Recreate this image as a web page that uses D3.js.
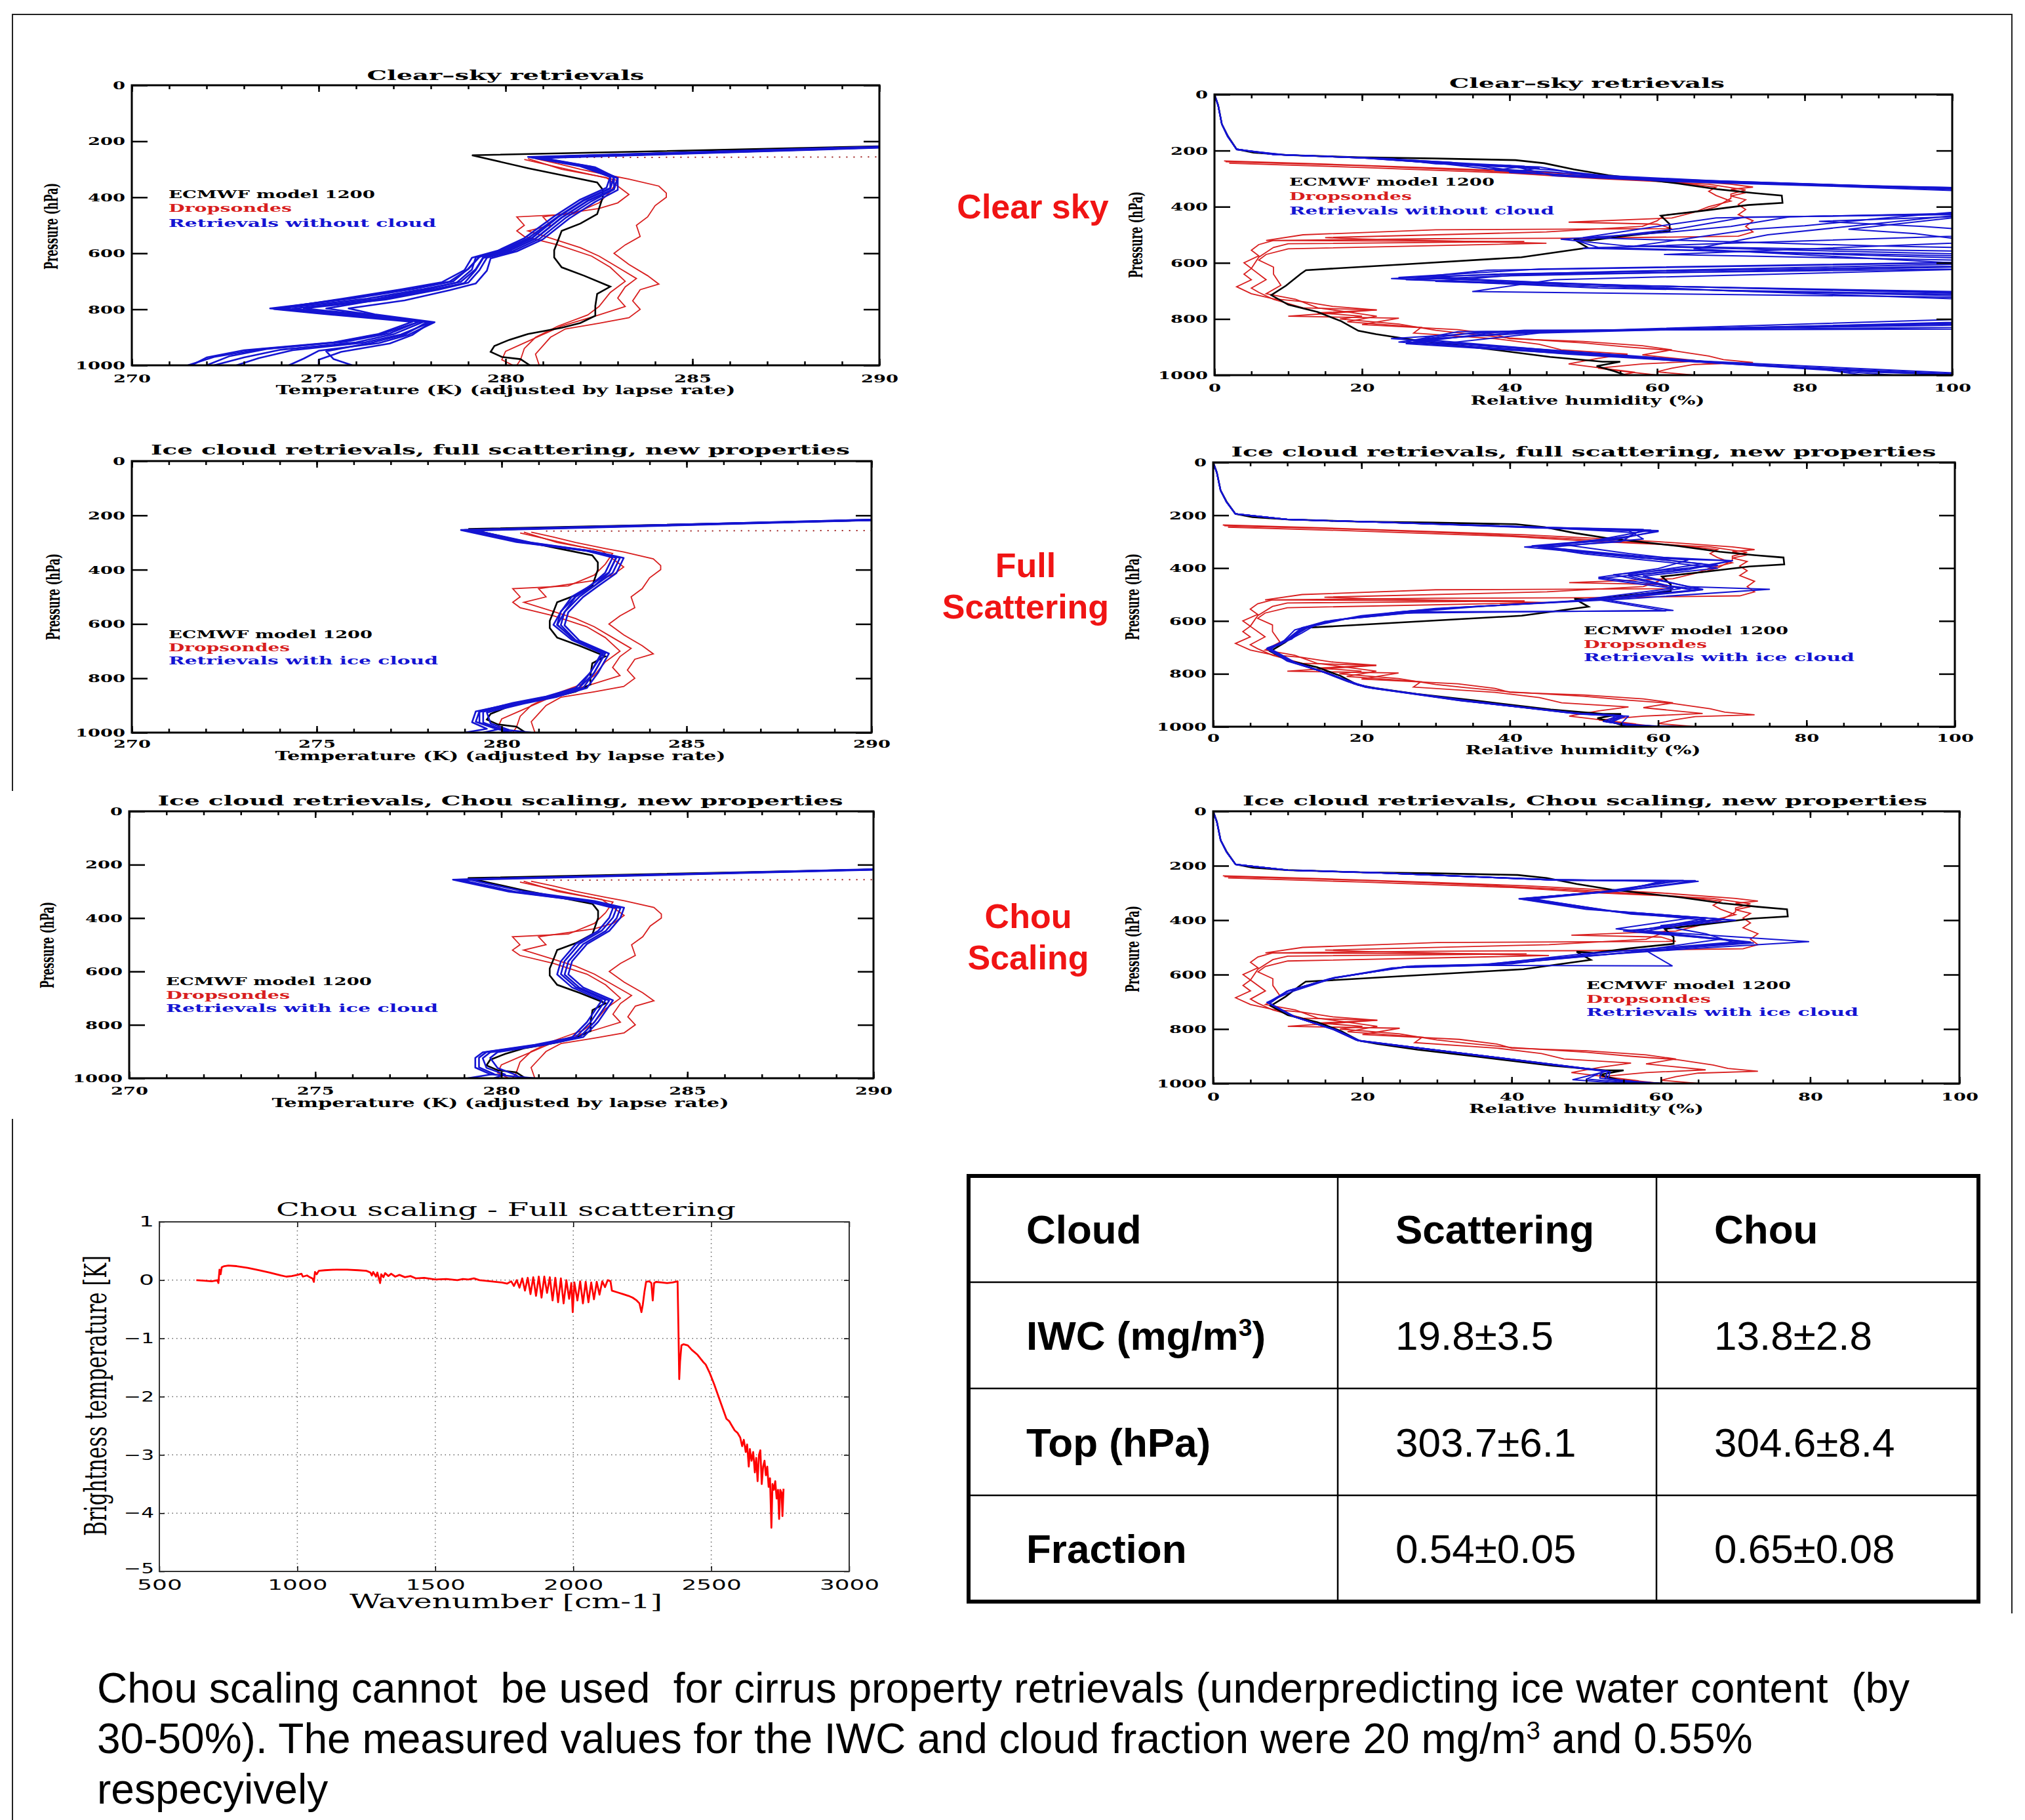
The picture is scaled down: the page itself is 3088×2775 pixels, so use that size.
<!DOCTYPE html>
<html>
<head>
<meta charset="utf-8">
<script src="https://cdn.jsdelivr.net/npm/d3@7"></script>
<style>
  body { margin: 0; background: #fff; }
</style>
</head>
<body>
<script>
// ---------- tick values ----------
var pressureTicks = [0, 200, 400, 600, 800, 1000];
var tempTicks = [270, 275, 280, 285, 290];
var rhTicks = [0, 20, 40, 60, 80, 100];
var waveTicks = [500, 1000, 1500, 2000, 2500, 3000];
var btTicks = [1, 0, -1, -2, -3, -4, -5];

// ---------- texts ----------
var panelTitles = ["Clear–sky retrievals", "Clear–sky retrievals",
  "Ice cloud retrievals, full scattering, new properties", "Ice cloud retrievals, full scattering, new properties",
  "Ice cloud retrievals, Chou scaling, new properties", "Ice cloud retrievals, Chou scaling, new properties"];
var legendClear = ["ECMWF model 1200", "Dropsondes", "Retrievals without cloud"];
var legendIce = ["ECMWF model 1200", "Dropsondes", "Retrievals with ice cloud"];
var sideLabels = [["Clear sky"], ["Full", "Scattering"], ["Chou", "Scaling"]];
var tableHeader = ["Cloud", "Scattering", "Chou"];
var tableRows = [
  ["IWC (mg/m|3|)", "19.8±3.5", "13.8±2.8"],
  ["Top (hPa)", "303.7±6.1", "304.6±8.4"],
  ["Fraction", "0.54±0.05", "0.65±0.08"]
];
var noteLines = [
  "Chou scaling cannot  be used  for cirrus property retrievals (underpredicting ice water content  (by",
  "30-50%). The measured values for the IWC and cloud fraction were 20 mg/m|3| and 0.55%",
  "respecyively"
];

// ---------- temperature profiles [T (K), p (hPa)] ----------
var ecmwfT = [[290,218],[279.1,250],[280.6,296],[281.5,321],[282.45,347],[282.6,373],[282.6,400],[282.45,460],[282,494],[281.5,520],[281.4,555],[281.3,589],[281.3,615],[281.5,650],[282.1,680],[282.8,719],[282.45,745],[282.4,788],[282.4,823],[282,849],[281.5,866],[280.6,888],[280.1,909],[279.7,931],[279.6,952],[279.9,970],[280.4,978],[280.65,1000]];

var sondeT = [
  [[280.8,262],[281.4,280],[282,300],[282.8,322],[283.3,335],[284.1,360],[284.3,385],[284.3,400],[284,430],[283.8,470],[283.5,500],[283.6,540],[283.2,570],[282.9,600],[283.3,640],[283.8,680],[284.1,710],[283.6,730],[283.4,770],[283.6,800],[283.3,830],[282.5,850],[281.6,870],[281.2,900],[281,930],[280.8,960],[280.9,1000]],
  [[280.6,262],[281.5,300],[282.7,330],[283,360],[283.3,390],[283,420],[282.5,440],[281,470],[281.2,500],[280.6,520],[281.3,550],[282,580],[282.5,610],[283,650],[283.5,690],[283.2,720],[283,760],[283.2,790],[282.5,820],[281.5,860],[281,890],[280.5,920],[280,950],[279.9,980],[280.2,1000]],
  [[280.5,265],[281.8,305],[283,340],[282.8,380],[282.5,420],[281.8,460],[280.3,470],[280.5,500],[280.3,520],[280.5,540],[281.4,570],[282.3,610],[282.8,650],[283.2,700],[282.8,740],[282.5,790],[282.2,820],[281.4,860],[280.8,900],[280.5,940],[280.4,980],[280.3,1000]]
];
var sondeTopT = [[281.2,258],[290,256]];

var clearT = [
  [[290,219],[280.7,257],[282.1,290],[282.9,328],[282.8,368],[282.1,410],[281.4,470],[280.7,545],[280,588],[279.3,612],[279,655],[278.6,700],[277.6,726],[276,760],[273.7,797],[275.3,815],[277.7,843],[276.9,886],[275.7,916],[273.4,943],[272.2,970],[271.5,1000]],
  [[290,221],[280.8,258],[282.2,291],[282.9,330],[282.9,370],[282.2,412],[281.5,472],[280.8,547],[280.1,590],[279.4,614],[279.2,657],[278.8,702],[277.8,728],[276.3,762],[274,797],[275.6,816],[277.8,845],[277,889],[276,918],[274,944],[273,972],[272.2,1000]],
  [[290,222],[280.9,259],[282.3,292],[283,331],[282.9,372],[282.3,414],[281.6,474],[280.9,549],[280.2,592],[279.5,616],[279.3,660],[279,705],[278.2,730],[276.8,765],[274.6,797],[276.1,817],[278,846],[277.2,890],[276.2,919],[274.3,946],[273.4,974],[272.8,1000]],
  [[290,220],[280.6,256],[282,289],[282.8,327],[282.7,366],[282,408],[281.3,468],[280.5,546],[279.8,590],[279.1,616],[278.9,660],[278.3,703],[277.2,729],[275.6,763],[273.8,799],[275,815],[277.5,845],[276.6,888],[275.4,918],[273,946],[272,972],[271.6,1000]],
  [[290,223],[281,260],[282.4,293],[283,333],[283,374],[282.4,416],[281.7,476],[281,550],[280.3,593],[279.6,618],[279.5,662],[279.2,708],[278.5,732],[277.3,768],[275.8,797],[276.5,818],[278.1,846],[277.4,891],[276.6,921],[275,948],[274.6,976],[274.2,1000]],
  [[290,221],[280.8,258],[282.2,290],[282.9,329],[282.8,369],[282.1,411],[281.4,471],[280.7,547],[280,591],[279.2,615],[279.1,658],[278.7,704],[277.9,729],[276.5,764],[274.3,798],[275.8,816],[277.9,846],[277.3,890],[276.4,920],[275.2,950],[275.4,978],[275.9,1000]],
  [[290,222],[280.9,259],[282.3,291],[283,332],[282.9,371],[282.2,413],[281.5,473],[280.8,548],[280.1,591],[279.4,617],[279.2,660],[278.9,706],[278,731],[276.6,766],[275.2,797],[276.3,817],[278,847],[277.5,892],[276.9,922],[275.6,952],[275,980],[275,1000]],
  [[290,220],[280.7,257],[282.1,289],[282.8,328],[282.8,367],[282.1,409],[281.4,469],[280.6,546],[279.9,589],[279.3,613],[279,657],[278.5,701],[277.5,727],[275.8,761],[273.9,796],[275.4,814],[277.7,844],[276.7,887],[275.5,917],[273.6,942],[272.6,968],[272,1000]]
];

var scatT = [
  [[290,216],[278.9,254],[280.4,298],[282.3,330],[283.1,354],[282.9,410],[282.4,458],[282,498],[281.6,554],[281.5,602],[281.95,658],[282.75,706],[282.4,778],[282.1,834],[281.3,866],[280.4,890],[279.3,922],[279.2,962],[279.6,986],[279,1000]],
  [[290,217],[279.1,255],[280.6,299],[282.4,331],[283.2,356],[283,412],[282.5,460],[282.1,500],[281.7,556],[281.6,604],[282,660],[282.8,708],[282.5,780],[282.2,836],[281.4,868],[280.5,892],[279.4,924],[279.4,964],[279.9,988],[279.5,1000]],
  [[290,218],[279.3,256],[280.8,300],[282.5,333],[283.3,357],[283.1,413],[282.6,461],[282.2,501],[281.8,557],[281.7,605],[282.1,661],[282.9,709],[282.6,781],[282.3,836],[281.5,868],[280.6,893],[279.6,926],[279.7,966],[280.2,990],[280,1000]],
  [[290,216],[279,254],[280.5,298],[282.3,331],[283,355],[282.8,411],[282.4,459],[281.9,499],[281.6,555],[281.4,603],[281.9,659],[282.7,707],[282.4,779],[282,835],[281.2,867],[280.3,891],[279.4,921],[279.3,960],[279.8,984],[280.3,1000]],
  [[290,217],[279.2,255],[280.7,299],[282.4,332],[283.1,356],[282.9,412],[282.5,460],[282,500],[281.7,556],[281.5,604],[282,660],[282.8,707],[282.5,780],[282.1,835],[281.3,867],[280.5,892],[279.5,923],[279.5,963],[280,988],[280.8,1000]]
];

var chouT = [
  [[290,218],[278.7,256],[280.2,301],[282.3,337],[283.1,362],[283,398],[282.7,447],[282.1,496],[281.7,561],[281.6,610],[282,659],[282.8,707],[282.4,789],[282,846],[281,874],[279.6,902],[279.4,923],[279.4,959],[279.8,984],[279.1,1000]],
  [[290,219],[278.9,257],[280.4,302],[282.4,338],[283.2,363],[283.1,400],[282.8,449],[282.2,498],[281.8,563],[281.7,612],[282.1,661],[282.9,709],[282.5,790],[282.1,847],[281.1,875],[279.7,903],[279.5,925],[279.6,961],[280.1,986],[279.8,1000]],
  [[290,217],[279.1,255],[280.6,300],[282.5,336],[283.3,361],[283.2,399],[282.9,448],[282.3,497],[281.9,562],[281.8,611],[282.2,660],[283,708],[282.6,789],[282.2,846],[281.2,874],[279.9,902],[279.7,924],[279.9,962],[280.4,988],[280.5,1000]],
  [[290,218],[278.8,256],[280.3,301],[282.3,337],[283,362],[282.9,399],[282.6,448],[282,497],[281.6,562],[281.5,611],[281.9,660],[282.7,708],[282.3,790],[281.9,847],[280.9,875],[279.5,903],[279.3,924],[279.3,960],[279.7,985],[280.9,1000]]
];

// ---------- relative humidity profiles [RH (%), p (hPa)] ----------
var ecmwfRH = [[0,0],[0.5,38],[1,106],[1.8,148],[3,195],[5.3,207],[10,216],[19.5,224],[29.8,228],[40.8,234],[44.7,245],[48.7,267],[53.4,288],[57.3,300],[62.8,317],[68.3,338],[73,351],[76.9,360],[77,386],[72.3,394],[66,415],[60.5,432],[61.7,462],[61.7,487],[55.7,504],[51,520],[48.7,516],[50.6,546],[41.6,580],[25.8,605],[12.4,626],[11.7,639],[9.7,681],[7.7,715],[10,749],[14,775],[17.2,808],[19.5,842],[21.9,854],[27.4,876],[35.3,901],[45.5,935],[52.6,952],[55,952],[51.8,968],[54.2,986],[55.7,1000]];

var sondeRH = [
  [[1.3,237],[15,248],[30,262],[42,274],[50,285],[60,300],[70,320],[73,330],[70,338],[72,350],[70,362],[72,375],[71,392],[72,410],[71,428],[73,450],[72,470],[73,490],[71,505],[50,512],[30,514],[8,520],[6,535],[5,555],[6,575],[4,600],[5,620],[4,640],[5,660],[3,685],[5,710],[8,728],[12,738],[16,755],[22,768],[14,778],[20,790],[17,800],[25,818],[30,840],[34,852],[40,868],[50,885],[56,900],[62,912],[67,932],[69,945],[73,955],[65,962],[62,975],[60,988],[65,1000]],
  [[1.5,240],[20,254],[35,270],[48,288],[55,300],[62,312],[68,330],[67,345],[68,360],[70,380],[67,400],[65,420],[62,440],[48,455],[60,462],[62,478],[30,482],[12,500],[7,520],[42,524],[10,532],[8,545],[6,580],[5,620],[7,660],[5,690],[6,705],[8,730],[12,760],[22,768],[10,790],[25,797],[20,820],[33,838],[38,855],[40,870],[50,880],[58,895],[62,910],[58,928],[66,950],[58,960],[52,975],[55,985],[60,1000]],
  [[2,245],[20,260],[40,280],[52,300],[60,310],[67,320],[72,340],[70,355],[70,370],[68,400],[66,415],[61,430],[60,450],[58,470],[45,490],[15,510],[20,515],[45,530],[10,550],[7,570],[6,590],[8,615],[8,640],[9,680],[7,710],[11,730],[14,760],[18,775],[22,790],[18,810],[28,830],[27,850],[38,870],[44,890],[47,910],[56,925],[52,940],[48,960],[57,990],[55,1000]]
];

var clearRH = [
  [[0,0],[0.5,40],[1,106],[1.8,150],[3,195],[8,214],[20,225],[32,242],[38,262],[44,282],[60,305],[80,322],[100,334],[100,428],[72,437],[63,478],[49,520],[52,545],[100,582],[100,598],[44,622],[25,652],[58,682],[100,702],[100,830],[33,845],[26,880],[48,925],[75,968],[100,1000]],
  [[0,0],[0.5,40],[1,106],[1.8,150],[3,196],[9,215],[22,227],[36,248],[42,256],[38,270],[48,288],[66,306],[86,324],[100,338],[100,424],[78,436],[70,470],[61,492],[47,516],[56,540],[100,568],[100,612],[38,640],[24,656],[52,690],[100,712],[100,822],[36,846],[25,882],[56,936],[84,984],[92,1000]],
  [[0,0],[0.5,40],[1,106],[1.9,152],[3,197],[10,216],[24,229],[30,247],[40,253],[46,290],[62,310],[84,327],[100,342],[100,420],[90,442],[80,468],[73,480],[57,540],[100,558],[100,622],[42,641],[30,666],[62,692],[100,728],[100,802],[40,850],[27,878],[60,940],[82,978],[88,1000]],
  [[0,0],[0.5,40],[1,106],[1.8,150],[3,195],[8,214],[20,226],[34,252],[44,262],[40,278],[52,292],[70,312],[90,326],[100,332],[100,440],[86,480],[95,496],[100,512],[100,530],[61,570],[100,590],[100,624],[46,660],[35,702],[100,722],[100,812],[44,850],[30,890],[66,950],[100,992]],
  [[0,0],[0.5,40],[1,106],[1.8,150],[3,195],[9,215],[22,228],[38,255],[46,270],[56,298],[76,318],[100,336],[100,432],[75,500],[65,550],[100,600],[37,626],[28,650],[70,700],[100,716],[100,836],[42,840],[24,870],[56,930],[72,962],[100,1000]],
  [[0,0],[0.5,40],[1,106],[1.8,150],[3,195],[8,214],[21,227],[33,250],[44,258],[50,285],[68,308],[92,328],[100,332],[100,436],[82,452],[96,470],[100,478],[100,505],[70,530],[50,548],[100,575],[100,615],[40,646],[26,660],[48,676],[100,705],[100,815],[38,848],[26,888],[52,930],[90,990],[100,998]],
  [[0,0],[0.5,40],[1,106],[1.8,150],[3,195],[8,214],[20,226],[30,244],[37,265],[45,275],[58,300],[78,320],[100,337],[100,426],[68,440],[60,470],[50,510],[90,540],[100,545],[100,605],[55,630],[30,648],[40,670],[100,708],[100,818],[48,842],[28,872],[62,948],[80,972],[100,996]]
];

var scatRH = [
  [[0,0],[0.5,40],[1,106],[1.8,150],[3,195],[10,216],[22,226],[46,247],[59,256],[52,292],[44,318],[54,350],[66,384],[56,424],[66,480],[50,522],[34,548],[26,564],[16,598],[12,630],[10,672],[7.5,704],[10,752],[15,794],[19,834],[21,852],[34,900],[49,950],[55,958],[53,982],[57,995],[63,1000]],
  [[0,0],[0.5,40],[1,106],[1.8,150],[3,195],[10,216],[22,226],[44,248],[56,258],[58,290],[45,322],[58,356],[70,372],[62,410],[52,440],[62,476],[48,526],[36,545],[24,572],[15,602],[11,634],[9.5,676],[7.8,706],[11,756],[15.6,798],[19,838],[20.5,850],[33,898],[48,948],[54,956],[54,986],[58,997],[62,1000]],
  [[0,0],[0.5,40],[1,106],[1.8,150],[3,195],[10,216],[22,226],[48,249],[60,262],[54,290],[43,316],[50,346],[62,380],[68,400],[58,430],[64,470],[75,480],[56,516],[30,553],[20,580],[14,612],[12,645],[9,690],[7.2,705],[9.8,748],[14.5,790],[18.2,830],[20.8,849],[33,900],[50,952],[56,960],[55,988],[59,998],[64,1000]],
  [[0,0],[0.5,40],[1,106],[1.8,150],[3,195],[10,216],[22,226],[45,246],[58,254],[56,280],[47,310],[56,345],[64,370],[60,402],[52,435],[66,482],[53,520],[62,560],[26,570],[17,595],[12,625],[10,668],[7.6,703],[10.5,754],[15.2,796],[19.4,838],[21.5,855],[34.2,903],[49.8,953],[55.5,961],[53.6,984],[56,996],[61,1000]],
  [[0,0],[0.5,40],[1,106],[1.8,150],[3,195],[10,216],[22,226],[47,250],[57,266],[55,300],[44,320],[55,352],[68,390],[54,425],[60,460],[65,485],[47,528],[32,550],[25,566],[16.8,596],[12.2,628],[10.6,668],[7.3,702],[10,750],[14.8,792],[18.6,833],[20.6,851],[33.4,902],[49.5,950],[54.6,958],[52.6,980],[56.4,994],[62,1000]],
  [[0,0],[0.5,40],[1,106],[1.8,150],[3,195],[10,216],[22,226],[46,248],[60,258],[54,294],[42,320],[58,362],[70,372],[64,406],[56,430],[63,478],[52,520],[61,562],[28,566],[18,592],[13,622],[10.4,664],[7.7,706],[10.3,752],[15,795],[18.9,836],[21.2,853],[33.8,902],[49,951],[55.2,959],[53.4,983],[57.2,996],[62.5,1000]]
];

var chouRH = [
  [[0,0],[0.5,40],[1,106],[1.8,150],[3,195],[10,216],[22,226],[46,253],[64.6,255],[54.5,293],[41.6,321],[52.9,365],[68.5,397],[56.8,437],[72,480],[56.8,516],[37.4,564],[25.7,571],[16.3,612],[10.1,660],[7.4,704],[10.9,755],[16.3,803],[19.5,843],[41.2,915],[52.9,955],[52.5,982],[56.8,994],[60,1000]],
  [[0,0],[0.5,40],[1,106],[1.8,150],[3,195],[10,216],[22,226],[45,252],[62,256],[52,296],[42,320],[55,372],[66,400],[58,440],[79.8,479],[64,505],[45,540],[35,566],[24,575],[15.6,615],[9.8,662],[7.6,706],[11.2,758],[16.6,805],[19.8,845],[41,916],[52.6,956],[48.2,986],[53,996],[58,1000]],
  [[0,0],[0.5,40],[1,106],[1.8,150],[3,195],[10,216],[22,226],[44,250],[60,258],[55,290],[43,322],[56,378],[64,392],[54,432],[72.4,484],[58,512],[61.5,568],[36,566],[25,574],[16,614],[10.4,664],[7.2,702],[10.6,752],[16,800],[19.2,841],[40.5,913],[52.2,953],[51.8,980],[55,992],[59,1000]],
  [[0,0],[0.5,40],[1,106],[1.8,150],[3,195],[10,216],[22,226],[47,254],[63,254],[53,294],[41,322],[50,360],[70,400],[55,440],[68,470],[55,520],[38,562],[26,570],[16.5,610],[10.2,658],[7.5,705],[11,756],[16.4,802],[19.6,842],[41.5,917],[53.2,957],[52.9,983],[57.2,995],[61,1000]],
  [[0,0],[0.5,40],[1,106],[1.8,150],[3,195],[10,216],[22,226],[46,252],[65,257],[56,288],[42,320],[54,370],[66,394],[57,438],[71,478],[52,520],[40,560],[27,568],[16.2,611],[9.9,661],[7.3,703],[10.7,754],[16.1,802],[19.3,842],[40.8,914],[52.5,954],[50,984],[54.5,994],[60,1000]],
  [[0,0],[0.5,40],[1,106],[1.8,150],[3,195],[10,216],[22,226],[45,252],[61,255],[54,292],[41,321],[52,364],[68,396],[60,420],[66,450],[70,484],[50,522],[36,565],[25.5,572],[16.4,612],[10,660],[7.4,704],[10.9,755],[16.3,803],[19.5,843],[41.2,915],[52.9,955],[52.5,982],[56.8,994],[60,1000]]
];

// ---------- Chou - full scattering brightness temperature difference [cm-1, K] ----------
var spectrum = [[634,0],[660,-0.01],[690,-0.02],[703,-0.01],[710,0],[714,-0.05],[718,0.18],[722,0.1],[726,0.22],[735,0.24],[750,0.25],[780,0.24],[820,0.21],[860,0.17],[900,0.13],[940,0.08],[960,0.06],[980,0.07],[1000,0.09],[1015,0.11],[1020,0.06],[1035,0.08],[1045,0.05],[1055,0.03],[1060,-0.03],[1064,0.14],[1070,0.1],[1078,0.16],[1100,0.17],[1140,0.18],[1180,0.18],[1220,0.17],[1250,0.16],[1265,0.13],[1270,0.08],[1275,0.14],[1285,0.06],[1290,0.13],[1296,0.02],[1300,-0.05],[1304,0.1],[1312,0.05],[1318,0.12],[1330,0.07],[1340,0.11],[1355,0.06],[1370,0.09],[1390,0.05],[1410,0.07],[1430,0.03],[1460,0.04],[1500,0.01],[1540,0.02],[1580,0],[1600,0.02],[1620,0.01],[1640,0.03],[1660,0],[1700,-0.02],[1740,-0.04],[1760,-0.06],[1775,-0.02],[1785,-0.1],[1795,0],[1805,-0.13],[1815,0.03],[1825,-0.18],[1835,0.04],[1845,-0.24],[1855,0.05],[1865,-0.27],[1875,0.06],[1885,-0.3],[1895,0.06],[1905,-0.22],[1915,0.05],[1925,-0.35],[1935,0.04],[1945,-0.38],[1955,0.03],[1965,-0.4],[1975,0],[1985,-0.32],[1993,-0.05],[1998,-0.55],[2004,-0.04],[2015,-0.35],[2025,-0.02],[2035,-0.4],[2045,-0.03],[2055,-0.38],[2065,-0.04],[2075,-0.33],[2085,-0.03],[2095,-0.25],[2105,-0.02],[2115,-0.12],[2125,0],[2135,-0.02],[2140,-0.18],[2160,-0.21],[2180,-0.24],[2200,-0.27],[2215,-0.3],[2230,-0.35],[2240,-0.4],[2247,-0.55],[2252,-0.42],[2258,-0.2],[2264,-0.03],[2275,-0.02],[2283,-0.05],[2288,-0.35],[2293,-0.05],[2300,-0.03],[2320,-0.04],[2340,-0.05],[2360,-0.04],[2378,-0.02],[2381,-0.8],[2384,-1.7],[2387,-1.4],[2392,-1.12],[2400,-1.1],[2415,-1.12],[2430,-1.2],[2450,-1.28],[2470,-1.4],[2480,-1.45],[2495,-1.6],[2510,-1.78],[2525,-1.98],[2540,-2.18],[2555,-2.38],[2565,-2.42],[2575,-2.5],[2585,-2.58],[2595,-2.62],[2605,-2.7],[2612,-2.85],[2618,-2.74],[2625,-2.95],[2630,-2.82],[2636,-3.2],[2640,-2.9],[2646,-3.1],[2652,-2.95],[2658,-3.3],[2663,-3.05],[2668,-3.45],[2673,-3],[2678,-2.92],[2683,-3.5],[2688,-3.2],[2693,-3.1],[2698,-3.35],[2703,-3.2],[2708,-3.55],[2713,-3.4],[2718,-4.25],[2722,-3.5],[2727,-3.6],[2732,-3.45],[2737,-3.75],[2742,-3.6],[2746,-4.1],[2750,-3.6],[2755,-3.65],[2758,-4.05],[2762,-3.58]];


// ================= drawing =================
var width = 3088, height = 2775;
var black = "#000", red = "#d81e1e", blue = "#1414d2";

var svg = d3.select("body").append("svg")
    .attr("width", width)
    .attr("height", height)
    .style("background", "#fff");

// slide frame
var frame = svg.append("g").attr("stroke", "#222").attr("stroke-width", 2).attr("fill", "none");
frame.append("path").attr("d", "M19,1206 V22 H3068 V2460");
frame.append("path").attr("d", "M19,1706 V2775");

// IDL style text (stretched wide, slab serif)
function idlText(g, x, y, str, size, len, color) {
  return g.append("text")
      .attr("x", x).attr("y", y)
      .attr("font-family", "DejaVu Serif")
      .attr("font-weight", "bold")
      .attr("font-size", size)
      .attr("fill", color || black)
      .attr("textLength", len)
      .attr("lengthAdjust", "spacingAndGlyphs")
      .text(str);
}

function styleTicks(g, perChar, size, family, weight) {
  g.selectAll(".tick text")
      .attr("font-family", family)
      .attr("font-weight", weight)
      .attr("font-size", size)
      .attr("fill", black)
      .attr("textLength", function () { return this.textContent.length * perChar; })
      .attr("lengthAdjust", "spacingAndGlyphs");
}

// layout of the six profile panels
var panels = [
  {kind: "T", left: 201, right: 1341, top: 130, bottom: 557, titleX: 771, titleY: 122, titleLen: 423,
   xlabX: 771, xlabY: 601, xlabLen: 701, tickY: 583, ylabX: 79, ylabY: 345,
   legX: 257, legY: [302, 323, 346], legLen: [315, 188, 408], legend: legendClear, blues: clearT},
  {kind: "RH", left: 1852, right: 2977, top: 144, bottom: 572, titleX: 2420, titleY: 134, titleLen: 420,
   xlabX: 2421, xlabY: 617, xlabLen: 357, tickY: 597, ylabX: 1733, ylabY: 358,
   legX: 1966, legY: [283, 305, 327], legLen: [313, 187, 404], legend: legendClear, blues: clearRH},
  {kind: "T", left: 201, right: 1329, top: 703, bottom: 1117, titleX: 763, titleY: 693, titleLen: 1066,
   xlabX: 763, xlabY: 1159, xlabLen: 687, tickY: 1140, ylabX: 82, ylabY: 910,
   legX: 257, legY: [973, 993, 1013], legLen: [311, 185, 411], legend: legendIce, blues: scatT},
  {kind: "RH", left: 1850, right: 2981, top: 705, bottom: 1108, titleX: 2415, titleY: 696, titleLen: 1075,
   xlabX: 2414, xlabY: 1150, xlabLen: 359, tickY: 1131, ylabX: 1728, ylabY: 910,
   legX: 2415, legY: [967, 988, 1008], legLen: [312, 188, 413], legend: legendIce, blues: scatRH},
  {kind: "T", left: 197, right: 1332, top: 1237, bottom: 1644, titleX: 763, titleY: 1228, titleLen: 1045,
   xlabX: 763, xlabY: 1688, xlabLen: 697, tickY: 1669, ylabX: 73, ylabY: 1441,
   legX: 253, legY: [1502, 1523, 1543], legLen: [314, 189, 415], legend: legendIce, blues: chouT},
  {kind: "RH", left: 1850, right: 2988, top: 1237, bottom: 1652, titleX: 2417, titleY: 1228, titleLen: 1044,
   xlabX: 2419, xlabY: 1697, xlabLen: 358, tickY: 1678, ylabX: 1728, ylabY: 1447,
   legX: 2419, legY: [1508, 1529, 1549], legLen: [312, 190, 415], legend: legendIce, blues: chouRH}
];

panels.forEach(function (p, i) {
  var g = svg.append("g");
  var isT = p.kind === "T";
  var xScale = d3.scaleLinear().domain(isT ? [270, 290] : [0, 100]).range([p.left, p.right]);
  var yScale = d3.scaleLinear().domain([0, 1000]).range([p.top, p.bottom]);
  var line = d3.line().x(d => xScale(d[0])).y(d => yScale(d[1]));

  svg.append("clipPath").attr("id", "clip" + i)
    .append("rect")
      .attr("x", p.left).attr("y", p.top)
      .attr("width", p.right - p.left).attr("height", p.bottom - p.top);

  var plot = g.append("g").attr("clip-path", "url(#clip" + i + ")").attr("fill", "none");

  // dropsondes
  plot.selectAll("path.sonde")
    .data(isT ? sondeT : sondeRH)
    .enter().append("path")
      .attr("class", "sonde")
      .attr("d", line)
      .attr("stroke", red)
      .attr("stroke-width", 1.8);
  if (isT) {
    plot.append("path").attr("d", line(sondeTopT))
      .attr("stroke", "#a02020").attr("stroke-width", 2).attr("stroke-dasharray", "2,9");
  }

  // ECMWF model
  plot.append("path")
      .attr("d", line(isT ? ecmwfT : ecmwfRH))
      .attr("stroke", black)
      .attr("stroke-width", 2.6);

  // retrievals
  plot.selectAll("path.ret")
    .data(p.blues)
    .enter().append("path")
      .attr("class", "ret")
      .attr("d", line)
      .attr("stroke", blue)
      .attr("stroke-width", isT ? 2.6 : 2)
      .attr("stroke-linejoin", "round");

  // axes (ticks inside, IDL style)
  var majors = isT ? tempTicks : rhTicks;
  var minors = d3.range(isT ? 270 : 0, isT ? 290.5 : 100.5, isT ? 1 : 5);

  var left = g.append("g").attr("transform", "translate(" + p.left + ",0)")
      .call(d3.axisLeft(yScale).tickValues(pressureTicks).tickSize(-24).tickPadding(10).tickFormat(d3.format("d")));
  var right = g.append("g").attr("transform", "translate(" + p.right + ",0)")
      .call(d3.axisRight(yScale).tickValues(pressureTicks).tickSize(-24).tickFormat(""));
  var bottom = g.append("g").attr("transform", "translate(0," + p.bottom + ")")
      .call(d3.axisBottom(xScale).tickValues(majors).tickSize(-10).tickFormat(d3.format("d")));
  var bottomMinor = g.append("g").attr("transform", "translate(0," + p.bottom + ")")
      .call(d3.axisBottom(xScale).tickValues(minors).tickSize(-6).tickFormat(""));
  var top = g.append("g").attr("transform", "translate(0," + p.top + ")")
      .call(d3.axisTop(xScale).tickValues(majors).tickSize(-10).tickFormat(""));
  var topMinor = g.append("g").attr("transform", "translate(0," + p.top + ")")
      .call(d3.axisTop(xScale).tickValues(minors).tickSize(-6).tickFormat(""));

  [left, right, bottom, bottomMinor, top, topMinor].forEach(function (a) {
    a.select(".domain").remove();
    a.selectAll(".tick line").attr("stroke", black).attr("stroke-width", 2.5);
  });
  styleTicks(left, 19, 17, "DejaVu Serif", "bold");
  styleTicks(bottom, 19, 17, "DejaVu Serif", "bold");
  bottom.selectAll(".tick text").attr("y", p.tickY - p.bottom).attr("dy", null);

  g.append("rect")
      .attr("x", p.left).attr("y", p.top)
      .attr("width", p.right - p.left).attr("height", p.bottom - p.top)
      .attr("fill", "none").attr("stroke", black).attr("stroke-width", 3);

  // title, axis labels, legend
  idlText(g, p.titleX - p.titleLen / 2, p.titleY, panelTitles[i], 20, p.titleLen);
  idlText(g, p.xlabX - p.xlabLen / 2, p.xlabY, isT ? "Temperature (K) (adjusted by lapse rate)" : "Relative humidity (%)", 19, p.xlabLen);
  g.append("text")
      .attr("transform", "translate(" + p.ylabX + "," + p.ylabY + ") scale(1.8,1) rotate(-90)")
      .attr("text-anchor", "middle")
      .attr("dy", "0.35em")
      .attr("font-family", "DejaVu Serif").attr("font-weight", "bold")
      .attr("font-size", 15)
      .attr("textLength", 132).attr("lengthAdjust", "spacingAndGlyphs")
      .text("Pressure (hPa)");

  var legColors = [black, red, blue];
  p.legend.forEach(function (s, k) {
    idlText(g, p.legX, p.legY[k], s, 17, p.legLen[k], legColors[k]);
  });
});

// red side labels
var sidePos = [{x: 1575, y: [333]}, {x: 1564, y: [880, 943]}, {x: 1568, y: [1415, 1478]}];
sideLabels.forEach(function (lines, i) {
  lines.forEach(function (s, k) {
    svg.append("text")
        .attr("x", sidePos[i].x).attr("y", sidePos[i].y[k])
        .attr("text-anchor", "middle")
        .attr("font-family", "Liberation Sans, Arial, sans-serif")
        .attr("font-weight", "bold")
        .attr("font-size", 52)
        .attr("fill", "#f01414")
        .text(s);
  });
});

// ---------- brightness temperature difference spectrum ----------
var sp = {left: 243, right: 1295, top: 1863, bottom: 2396};
var sg = svg.append("g");
var wx = d3.scaleLinear().domain([500, 3000]).range([sp.left, sp.right]);
var by = d3.scaleLinear().domain([-5, 1]).range([sp.bottom, sp.top]);

// dotted grid
sg.selectAll("line.vgrid")
  .data(waveTicks.slice(1, -1))
  .enter().append("line")
    .attr("x1", d => wx(d)).attr("x2", d => wx(d))
    .attr("y1", sp.top).attr("y2", sp.bottom)
    .attr("stroke", "#666").attr("stroke-width", 1.5).attr("stroke-dasharray", "1.5,5");
sg.selectAll("line.hgrid")
  .data(btTicks.slice(1, -1))
  .enter().append("line")
    .attr("x1", sp.left).attr("x2", sp.right)
    .attr("y1", d => by(d)).attr("y2", d => by(d))
    .attr("stroke", "#666").attr("stroke-width", 1.5).attr("stroke-dasharray", "1.5,5");

sg.append("path")
    .attr("d", d3.line().x(d => wx(d[0])).y(d => by(d[1]))(spectrum))
    .attr("fill", "none")
    .attr("stroke", "#ff0000")
    .attr("stroke-width", 2.8)
    .attr("stroke-linejoin", "round");

var sx = sg.append("g").attr("transform", "translate(0," + sp.bottom + ")")
    .call(d3.axisBottom(wx).tickValues(waveTicks).tickSize(-8).tickPadding(8).tickFormat(d3.format("d")));
var sxTop = sg.append("g").attr("transform", "translate(0," + sp.top + ")")
    .call(d3.axisTop(wx).tickValues(waveTicks).tickSize(-8).tickFormat(""));
var sy = sg.append("g").attr("transform", "translate(" + sp.left + ",0)")
    .call(d3.axisLeft(by).tickValues(btTicks).tickSize(-8).tickPadding(8).tickFormat(d3.format("d")));
var syRight = sg.append("g").attr("transform", "translate(" + sp.right + ",0)")
    .call(d3.axisRight(by).tickValues(btTicks).tickSize(-8).tickFormat(""));
[sx, sxTop, sy, syRight].forEach(function (a) {
  a.select(".domain").remove();
  a.selectAll(".tick line").attr("stroke", black).attr("stroke-width", 1.5);
});
styleTicks(sx, 22.8, 21, "DejaVu Sans", "normal");
sx.selectAll(".tick text").attr("y", 2424 - sp.bottom).attr("dy", null);
styleTicks(sy, 23, 21, "DejaVu Sans", "normal");
// lift the lowest y label a little so it clears the first x label
sy.selectAll(".tick text").filter(d => d === -5).attr("dy", "0.1em");

sg.append("rect")
    .attr("x", sp.left).attr("y", sp.top)
    .attr("width", sp.right - sp.left).attr("height", sp.bottom - sp.top)
    .attr("fill", "none").attr("stroke", "#333").attr("stroke-width", 2);

sg.append("text")
    .attr("x", 771 - 350).attr("y", 1854)
    .attr("font-family", "DejaVu Serif").attr("font-size", 27)
    .attr("textLength", 701).attr("lengthAdjust", "spacingAndGlyphs")
    .text("Chou scaling - Full scattering");
sg.append("text")
    .attr("x", 771 - 238).attr("y", 2452)
    .attr("font-family", "DejaVu Serif").attr("font-size", 30)
    .attr("textLength", 477).attr("lengthAdjust", "spacingAndGlyphs")
    .text("Wavenumber [cm-1]");
sg.append("text")
    .attr("transform", "translate(146,2128) scale(1.55,1) rotate(-90)")
    .attr("text-anchor", "middle").attr("dy", "0.35em")
    .attr("font-family", "DejaVu Serif").attr("font-size", 30)
    .attr("textLength", 428).attr("lengthAdjust", "spacingAndGlyphs")
    .text("Brightness temperature [K]");

// ---------- table ----------
var colEdges = [1477, 2040, 2526, 3017];
var rowEdges = [1793, 1955, 2117, 2280, 2442];
var tg = svg.append("g");
var cellText = [tableHeader].concat(tableRows);

tg.selectAll("line.col")
  .data(colEdges.slice(1, -1))
  .enter().append("line")
    .attr("x1", d => d).attr("x2", d => d)
    .attr("y1", rowEdges[0]).attr("y2", rowEdges[rowEdges.length - 1])
    .attr("stroke", black).attr("stroke-width", 2.5);
tg.selectAll("line.row")
  .data(rowEdges.slice(1, -1))
  .enter().append("line")
    .attr("x1", colEdges[0]).attr("x2", colEdges[colEdges.length - 1])
    .attr("y1", d => d).attr("y2", d => d)
    .attr("stroke", black).attr("stroke-width", 2.5);
tg.append("rect")
    .attr("x", colEdges[0]).attr("y", rowEdges[0])
    .attr("width", colEdges[3] - colEdges[0]).attr("height", rowEdges[4] - rowEdges[0])
    .attr("fill", "none").attr("stroke", black).attr("stroke-width", 6);

// text with |3| marking a superscript
function richText(t, str) {
  str.split("|").forEach(function (part, k) {
    if (part === "") return;
    var ts = t.append("tspan").text(part);
    if (k % 2 === 1) ts.attr("baseline-shift", "super").attr("font-size", "60%");
  });
}

cellText.forEach(function (row, r) {
  row.forEach(function (s, c) {
    var t = tg.append("text")
        .attr("x", colEdges[c] + 88)
        .attr("y", (rowEdges[r] + rowEdges[r + 1]) / 2 + 22)
        .attr("font-family", "Liberation Sans, Arial, sans-serif")
        .attr("font-weight", (r === 0 || c === 0) ? "bold" : "normal")
        .attr("font-size", 62)
        .attr("fill", black);
    richText(t, s);
  });
});

// ---------- bottom note ----------
noteLines.forEach(function (s, k) {
  var t = svg.append("text")
      .attr("x", 148)
      .attr("y", 2596 + k * 77)
      .attr("font-family", "Liberation Sans, Arial, sans-serif")
      .attr("font-size", 64)
      .attr("fill", black)
      .attr("xml:space", "preserve")
      .style("white-space", "pre");
  richText(t, s);
});
</script>
</body>
</html>
